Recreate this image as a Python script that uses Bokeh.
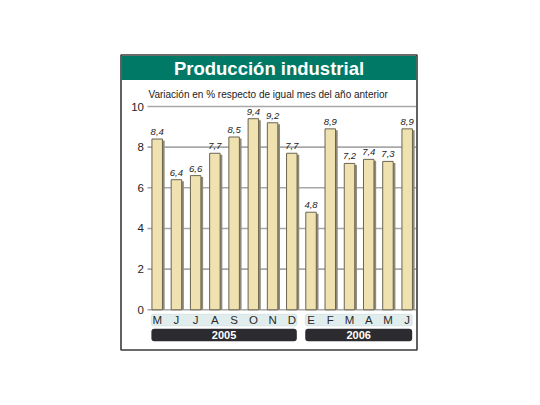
from bokeh.plotting import figure
from bokeh.models import Range1d
from bokeh.core.properties import value
from bokeh.embed import file_html
from bokeh.resources import INLINE

# ---- data ----
months = ["M", "J", "J", "A", "S", "O", "N", "D", "E", "F", "M", "A", "M", "J"]
values = [8.4, 6.4, 6.6, 7.7, 8.5, 9.4, 9.2, 7.7, 4.8, 8.9, 7.2, 7.4, 7.3, 8.9]
years = ["2005", "2006"]
year_counts = [8, 6]
y_ticks = [0, 2, 4, 6, 8, 10]
title = "Producción industrial"
subtitle = "Variación en % respecto de igual mes del año anterior"

# ---- layout (pixel -> data helpers) ----
W, H = 540, 405
X0, DX = 156.7, 19.23      # pixel x of first bar, pixels per bar
Y0, DY = 309.3, 20.33      # pixel y of value 0, pixels per unit

def X(px):
    return (px - X0) / DX

def Y(py):
    return (Y0 - py) / DY

p = figure(width=W, height=H, output_backend="svg", toolbar_location=None,
           x_range=Range1d(X(0), X(W)), y_range=Range1d(Y(H), Y(0)),
           min_border=0, border_fill_color="white", background_fill_color="white")
p.axis.visible = False
p.grid.visible = False
p.outline_line_color = None

FONT = value("Liberation Sans")

# outer frame
p.quad(left=[X(120.5)], right=[X(416.5)], top=[Y(54.5)], bottom=[Y(349.5)],
       fill_color="white", line_color="#3a3a3a", line_width=1.6)
# title bar
p.quad(left=[X(121.3)], right=[X(415.7)], top=[Y(55.5)], bottom=[Y(79.5)],
       fill_color="#007a66", line_color=None)
p.text(x=[X(268.5)], y=[Y(68)], text=[title], text_font=FONT, text_font_style="bold",
       text_font_size="18.5px", text_color="white", text_align="center",
       text_baseline="middle")
p.text(x=[X(148)], y=[Y(93.5)], text=[subtitle], text_font=FONT,
       text_font_size="10px", text_color="#222222", text_align="left",
       text_baseline="middle")

# gridlines and y tick labels
n = len(values)
p.segment(x0=[X(147)] * len(y_ticks), x1=[X(415.5)] * len(y_ticks),
          y0=y_ticks, y1=y_ticks, line_color="#a8a8a8", line_width=1.6)
p.text(x=[X(143.5)] * len(y_ticks), y=y_ticks, text=[str(t) for t in y_ticks],
       text_font=FONT, text_font_size="11.5px", text_color="#222222",
       text_align="right", text_baseline="middle")

idx = list(range(n))
bw = 10.5 / DX
# shadows
p.vbar(x=[i + 2.2 / DX for i in idx], top=[v - 1.5 / DY for v in values], bottom=0,
       width=bw, fill_color="#8f8a7a", line_color=None)
# bars
p.vbar(x=idx, top=values, bottom=0, width=bw, fill_color="#efe1b0",
       line_color="#6a6450", line_width=1)
# value labels
p.text(x=idx, y=[v + 4 / DY for v in values],
       text=[f"{v:.1f}".replace(".", ",") for v in values],
       text_font=FONT, text_font_style="italic", text_font_size="9.5px",
       text_color="#222222", text_align="center", text_baseline="bottom")

# month bands and year bars
starts = []
s = 0
for c in year_counts:
    starts.append(s)
    s += c
band_l = [st - 5.8 / DX for st in starts]
band_r = [st + c - 1 + 5.0 / DX for st, c in zip(starts, year_counts)]
p.quad(left=band_l, right=band_r, top=[Y(313.8)] * 2, bottom=[Y(325.3)] * 2,
       fill_color="#e1eded", line_color="#d2e0e0", line_width=0.8, border_radius=2)
p.text(x=idx, y=[Y(319.8)] * n, text=months, text_font=FONT,
       text_font_size="11.5px", text_color="#2a2a2a", text_align="center",
       text_baseline="middle")
p.quad(left=band_l, right=band_r, top=[Y(328.3)] * 2, bottom=[Y(340.8)] * 2,
       fill_color="#2b2b30", line_color=None, border_radius=3)
p.text(x=[(l + r) / 2 for l, r in zip(band_l, band_r)], y=[Y(334.8)] * 2,
       text=years, text_font=FONT, text_font_style="bold", text_font_size="11px",
       text_color="white", text_align="center", text_baseline="middle")

open("out.html", "w").write(file_html(p, INLINE))
